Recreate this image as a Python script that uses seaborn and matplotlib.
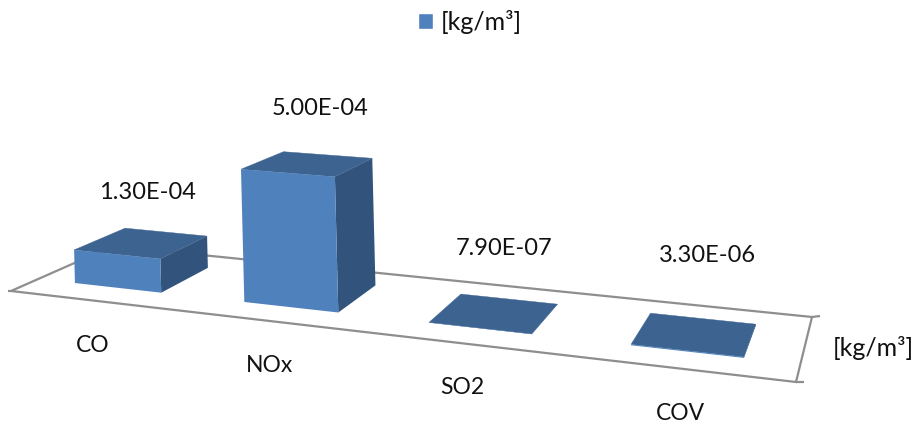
import matplotlib
matplotlib.use("Agg")
import matplotlib.pyplot as plt
import numpy as np
import pandas as pd
import seaborn as sns
from matplotlib.patches import Patch, Polygon
from matplotlib.transforms import Transform

# Emission factors per pollutant
pollutants = ["CO", "NOx", "SO2", "COV"]
emissions = [1.30e-4, 5.00e-4, 7.90e-7, 3.30e-6]
unit_label = "[kg/m³]"

# Perspective set-up of the floor, in figure pixels
FLOOR = np.array([(11, 291), (796, 382), (812, 317), (113, 246)], float)
PIXELS_PER_UNIT = 2.6e5
VERTICAL_LEAN = 0.025
BAR_WIDTH = 0.52
BAR_SHIFT = -2.5
DEPTH_FRONT, DEPTH_BACK = 0.25, 0.77

FRONT_COLOR = "#4F81BD"
TOP_COLOR = "#3D6390"
SIDE_COLOR = "#32537B"
FLOOR_COLOR = "#8E8E8E"
TEXT_COLOR = "#111111"


def floor_homography(q):
    """Coefficients mapping the unit square onto the floor quadrilateral."""
    (x0, y0), (x1, y1), (x2, y2), (x3, y3) = q
    sx, sy = x0 - x1 + x2 - x3, y0 - y1 + y2 - y3
    dx1, dx2, dy1, dy2 = x1 - x2, x3 - x2, y1 - y2, y3 - y2
    det = dx1 * dy2 - dx2 * dy1
    g = (sx * dy2 - dx2 * sy) / det
    h = (dx1 * sy - sx * dy1) / det
    return (x1 - x0 + g * x1, x3 - x0 + h * x3, x0,
            y1 - y0 + g * y1, y3 - y0 + h * y3, y0, g, h)


COEF = floor_homography(FLOOR)


def project(category, value, depth):
    """Category position, value and floor depth to figure pixels."""
    a, b, c, d, e, f, g, h = COEF
    s = (np.asarray(category, float) + 0.5) / 4
    v = np.asarray(value, float)
    w = g * s + h * depth + 1
    lift = PIXELS_PER_UNIT * v / w
    x = (a * s + b * depth + c) / w - VERTICAL_LEAN * lift + BAR_SHIFT
    y = (d * s + e * depth + f) / w - lift
    return np.column_stack([x, y])


class FrontFace(Transform):
    """Places the bars' data coordinates on the front plane of the scene."""
    input_dims = output_dims = 2
    is_separable = False
    has_inverse = False

    def transform_non_affine(self, values):
        values = np.asarray(values, float)
        return project(values[:, 0], values[:, 1], DEPTH_FRONT)


sns.set_theme(style="white")
plt.rcParams["font.family"] = ["Lato", "DejaVu Sans"]
plt.rcParams["text.color"] = TEXT_COLOR

fig = plt.figure(figsize=(9.16, 4.25), dpi=100, facecolor="white")
scene = fig.add_axes([0, 0, 1, 1])
scene.set_xlim(0, 916)
scene.set_ylim(425, 0)
scene.axis("off")

# Floor outline with its small corner ticks
scene.add_patch(Polygon(FLOOR, closed=True, facecolor="white",
                        edgecolor=FLOOR_COLOR, linewidth=1.6, joinstyle="miter"))
for corner, end in [((796, 382), (804, 382)), ((812, 317), (820, 316)), ((11, 291), (8, 291))]:
    scene.plot(*zip(corner, end), color=FLOOR_COLOR, lw=1.6, solid_capstyle="butt")

# Front faces come from seaborn; tops and sides extend them in depth
bar_ax = fig.add_axes([0, 0, 1, 1], facecolor="none")
frame = pd.DataFrame({"pollutant": pollutants, "emission": emissions})
sns.barplot(data=frame, x="pollutant", y="emission", color=FRONT_COLOR, saturation=1,
            width=BAR_WIDTH, linewidth=0, ax=bar_ax)
bar_ax.axis("off")

to_scene = FrontFace() + scene.transData
for bar in bar_ax.patches:
    left, right, top = bar.get_x(), bar.get_x() + bar.get_width(), bar.get_height()
    bar.set_transform(to_scene)
    bar.set_clip_on(False)
    bar.set_zorder(4)
    top_face = np.vstack([project([left, right], [top, top], DEPTH_FRONT),
                          project([right, left], [top, top], DEPTH_BACK)])
    side_face = np.vstack([project([right, right], [0, top], DEPTH_FRONT),
                           project([right, right], [top, 0], DEPTH_BACK)])
    scene.add_patch(Polygon(side_face, closed=True, facecolor=SIDE_COLOR, edgecolor="none", zorder=3))
    scene.add_patch(Polygon(top_face, closed=True, facecolor=TOP_COLOR, edgecolor=TOP_COLOR,
                            linewidth=0.3, zorder=3.5))

# Value labels and category names
value_anchor = [(147, 192), (320, 108), (504, 248), (707, 255)]
name_anchor = [(93, 345), (270, 366), (462, 388), (680, 414)]
for value, name, (vx, vy), (nx, ny) in zip(emissions, pollutants, value_anchor, name_anchor):
    scene.text(vx, vy, f"{value:.2E}", ha="center", va="center", fontsize=17)
    scene.text(nx, ny, name, ha="center", va="center", fontsize=16.5)
scene.text(873, 348, unit_label, ha="center", va="center", fontsize=18)

scene.legend(handles=[Patch(facecolor=FRONT_COLOR, label=unit_label)], frameon=False,
             loc="center", bbox_to_anchor=(470 / 916, 1 - 22 / 425), fontsize=18,
             handlelength=0.58, handleheight=0.62, handletextpad=0.3, borderpad=0)

fig.savefig("out.png", dpi=100)
